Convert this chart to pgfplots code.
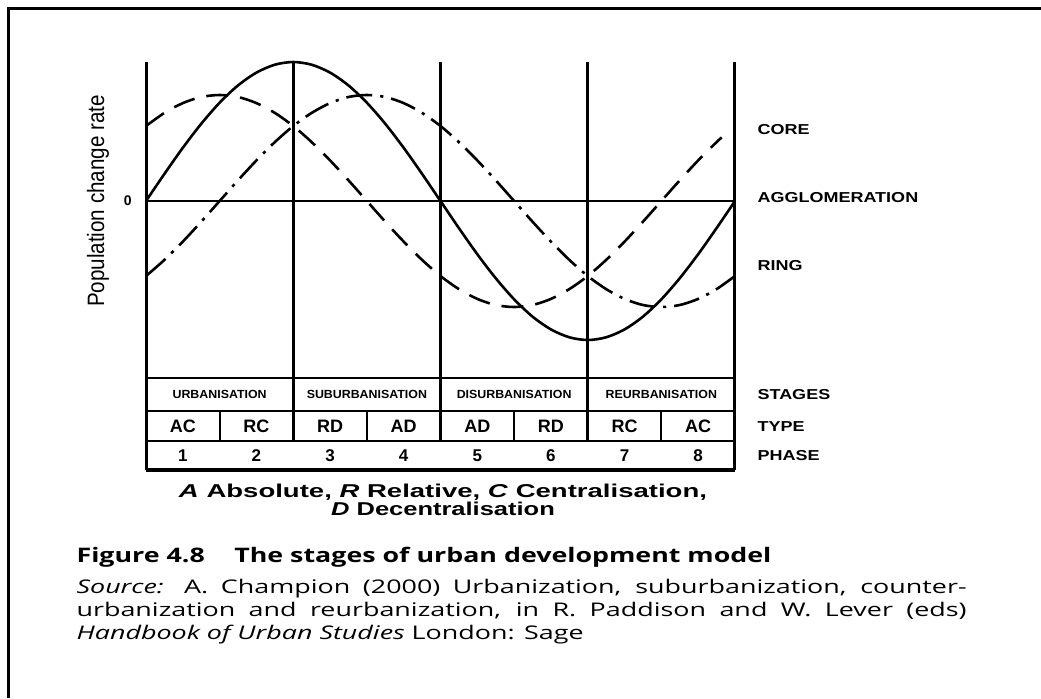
\documentclass[border=0pt]{standalone}
\usepackage{pgfplots}
\pgfplotsset{compat=1.18}
\usepackage{fontspec}
\setmainfont{Liberation Sans}
\newfontfamily\capfont{Open Sans}
\begin{document}
\begin{tikzpicture}
\begin{scope}[x=0.5pt,y=-0.5pt]
\useasboundingbox (0,0) rectangle (1041,698);
\fill[white] (0,0) rectangle (1041,698);
\draw[line width=1.5pt] (8,698) -- (8,8) -- (1041,8);
\end{scope}
\begin{axis}[at={(73pt,-235pt)}, anchor=south west, scale only axis,
  width=294.5pt, height=204pt, xmin=0, xmax=8, ymin=-269, ymax=139,
  axis lines=none, clip=false]
% frame lines
\draw[line width=1.5pt] (axis cs:0,139) -- (axis cs:0,-269);
\draw[line width=1.5pt] (axis cs:8,139) -- (axis cs:8,-269);
\pgfplotsinvokeforeach{2,4,6}{\draw[line width=1.5pt] (axis cs:#1,139) -- (axis cs:#1,-240);}
\draw[line width=1.1pt] (axis cs:0,0) -- (axis cs:8,0);
\draw[line width=1.1pt] (axis cs:0,-177) -- (axis cs:8,-177);
\draw[line width=1.1pt] (axis cs:0,-210) -- (axis cs:8,-210);
\draw[line width=1.1pt] (axis cs:0,-240) -- (axis cs:8,-240);
\draw[line width=2pt] (axis cs:0,-269) -- (axis cs:8,-269);
\pgfplotsinvokeforeach{1,3,5,7}{\draw[line width=1.1pt] (axis cs:#1,-210) -- (axis cs:#1,-240);}
% curves
\addplot[line width=1.3pt, smooth] coordinates {(0,0) (0.25,27.1) (0.5,53.2) (0.75,77.2) (1,98.3) (1.25,115.6) (1.5,128.4) (1.75,136.3) (2,139) (2.25,136.3) (2.5,128.4) (2.75,115.6) (3,98.3) (3.25,77.2) (3.5,53.2) (3.75,27.1) (4,0) (4.25,-27.1) (4.5,-53.2) (4.75,-77.2) (5,-98.3) (5.25,-115.6) (5.5,-128.4) (5.75,-136.3) (6,-139) (6.25,-136.3) (6.5,-128.4) (6.75,-115.6) (7,-98.3) (7.25,-77.2) (7.5,-53.2) (7.75,-27.1) (8,0)};
\addplot[line width=1.3pt, smooth, dash pattern=on 11pt off 6pt] coordinates {(0,75.0) (0.25,88.1) (0.5,97.9) (0.75,104.0) (1,106) (1.25,104.0) (1.5,97.9) (1.75,88.1) (2,75.0) (2.25,58.9) (2.5,40.6) (2.75,20.7) (3,0) (3.25,-20.7) (3.5,-40.6) (3.75,-58.9) (4,-75.0) (4.25,-88.1) (4.5,-97.9) (4.75,-104.0) (5,-106) (5.25,-104.0) (5.5,-97.9) (5.75,-88.1) (6,-75.0) (6.25,-58.9) (6.5,-40.6) (6.75,-20.7) (7,0) (7.25,20.7) (7.5,40.6) (7.75,58.9) (7.82,63.6)};
\addplot[line width=1.3pt, smooth, dash pattern=on 13pt off 4pt on 1.6pt off 4pt] coordinates {(0,-75.0) (0.25,-58.9) (0.5,-40.6) (0.75,-20.7) (1,0) (1.25,20.7) (1.5,40.6) (1.75,58.9) (2,75.0) (2.25,88.1) (2.5,97.9) (2.75,104.0) (3,106) (3.25,104.0) (3.5,97.9) (3.75,88.1) (4,75.0) (4.25,58.9) (4.5,40.6) (4.75,20.7) (5,0) (5.25,-20.7) (5.5,-40.6) (5.75,-58.9) (6,-75.0) (6.25,-88.1) (6.5,-97.9) (6.75,-104.0) (7,-106) (7.25,-104.0) (7.5,-97.9) (7.75,-88.1) (8,-75.0)};
% table text
\node[xscale=1.05, font=\fontsize{5.9}{7}\selectfont\bfseries] at (axis cs:1,-193.5) {URBANISATION};
\node[xscale=1.05, font=\fontsize{5.9}{7}\selectfont\bfseries] at (axis cs:3,-193.5) {SUBURBANISATION};
\node[xscale=1.05, font=\fontsize{5.9}{7}\selectfont\bfseries] at (axis cs:5,-193.5) {DISURBANISATION};
\node[xscale=1.05, font=\fontsize{5.9}{7}\selectfont\bfseries] at (axis cs:7,-193.5) {REURBANISATION};
\node[font=\fontsize{9}{10}\selectfont\bfseries] at (axis cs:0.5,-225) {AC};
\node[font=\fontsize{9}{10}\selectfont\bfseries] at (axis cs:1.5,-225) {RC};
\node[font=\fontsize{9}{10}\selectfont\bfseries] at (axis cs:2.5,-225) {RD};
\node[font=\fontsize{9}{10}\selectfont\bfseries] at (axis cs:3.5,-225) {AD};
\node[font=\fontsize{9}{10}\selectfont\bfseries] at (axis cs:4.5,-225) {AD};
\node[font=\fontsize{9}{10}\selectfont\bfseries] at (axis cs:5.5,-225) {RD};
\node[font=\fontsize{9}{10}\selectfont\bfseries] at (axis cs:6.5,-225) {RC};
\node[font=\fontsize{9}{10}\selectfont\bfseries] at (axis cs:7.5,-225) {AC};
\node[font=\fontsize{8.5}{10}\selectfont\bfseries] at (axis cs:0.5,-254.5) {1};
\node[font=\fontsize{8.5}{10}\selectfont\bfseries] at (axis cs:1.5,-254.5) {2};
\node[font=\fontsize{8.5}{10}\selectfont\bfseries] at (axis cs:2.5,-254.5) {3};
\node[font=\fontsize{8.5}{10}\selectfont\bfseries] at (axis cs:3.5,-254.5) {4};
\node[font=\fontsize{8.5}{10}\selectfont\bfseries] at (axis cs:4.5,-254.5) {5};
\node[font=\fontsize{8.5}{10}\selectfont\bfseries] at (axis cs:5.5,-254.5) {6};
\node[font=\fontsize{8.5}{10}\selectfont\bfseries] at (axis cs:6.5,-254.5) {7};
\node[font=\fontsize{8.5}{10}\selectfont\bfseries] at (axis cs:7.5,-254.5) {8};
% right labels
\node[anchor=west, inner sep=0pt, xscale=1.25, font=\fontsize{7.2}{8}\selectfont\bfseries] at (axis cs:8.3,71) {CORE};
\node[anchor=west, inner sep=0pt, xscale=1.25, font=\fontsize{7.2}{8}\selectfont\bfseries] at (axis cs:8.3,3) {AGGLOMERATION};
\node[anchor=west, inner sep=0pt, xscale=1.25, font=\fontsize{7.2}{8}\selectfont\bfseries] at (axis cs:8.3,-65) {RING};
\node[anchor=west, inner sep=0pt, xscale=1.25, font=\fontsize{7.2}{8}\selectfont\bfseries] at (axis cs:8.3,-193.5) {STAGES};
\node[anchor=west, inner sep=0pt, xscale=1.25, font=\fontsize{7.2}{8}\selectfont\bfseries] at (axis cs:8.3,-226) {TYPE};
\node[anchor=west, inner sep=0pt, xscale=1.25, font=\fontsize{7.2}{8}\selectfont\bfseries] at (axis cs:8.3,-255) {PHASE};
\end{axis}
\begin{scope}[x=0.5pt,y=-0.5pt]
\node[anchor=east, inner sep=0pt, font=\fontsize{7}{8}\selectfont\bfseries] at (132,201) {0};
\node[rotate=90, yscale=1.15, inner sep=0pt, font=\fontsize{10.3}{12}\selectfont] at (98,201) {Population change rate};
\node[anchor=base, inner sep=0pt, xscale=1.48, font=\fontsize{9.3}{10}\selectfont\bfseries] at (443,497) {\textit{A} Absolute, \textit{R} Relative, \textit{C} Centralisation,};
\node[anchor=base, inner sep=0pt, xscale=1.37, font=\fontsize{9.3}{10}\selectfont\bfseries] at (443,515) {\textit{D} Decentralisation};
\node[anchor=base west, inner sep=0pt, xscale=1.34, font=\capfont\fontsize{10}{12}\selectfont\bfseries] at (76,562) {Figure 4.8\hspace{1.1em}The stages of urban development model};
\node[anchor=base west, inner sep=0pt, xscale=1.43, font=\capfont\fontsize{9.4}{12}\selectfont] at (76,593) {\makebox[311.2pt][s]{\textit{Source:} A. Champion (2000) Urbanization, suburbanization, counter-}};
\node[anchor=base west, inner sep=0pt, xscale=1.43, font=\capfont\fontsize{9.4}{12}\selectfont] at (76,616) {\makebox[311.2pt][s]{urbanization and reurbanization, in R. Paddison and W. Lever (eds)}};
\node[anchor=base west, inner sep=0pt, xscale=1.43, font=\capfont\fontsize{9.4}{12}\selectfont] at (76,639) {\textit{Handbook of Urban Studies} London: Sage};
\end{scope}
\end{tikzpicture}
\end{document}
